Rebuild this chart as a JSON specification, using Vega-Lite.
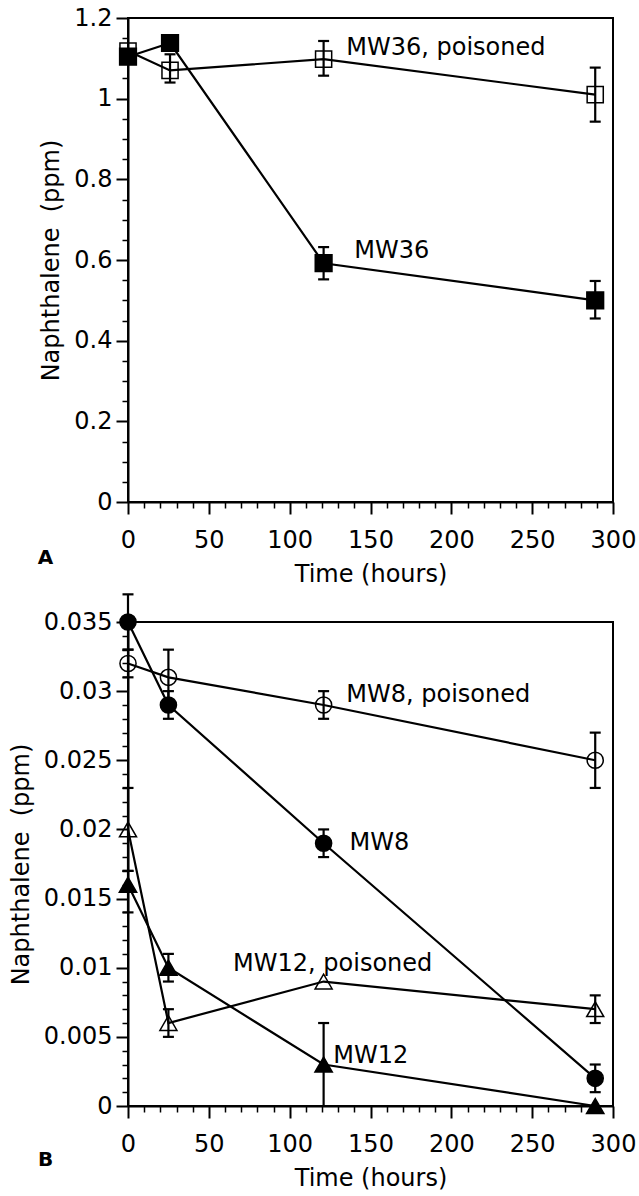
{
  "$schema": "https://vega.github.io/schema/vega-lite/v6.json",
  "padding": {"left": 8, "top": 5, "right": 0, "bottom": 0},
  "spacing": 5,
  "config": {
    "font": "DejaVu Sans",
    "view": {"stroke": "black", "strokeWidth": 2},
    "axis": {"domainColor": "black", "domainWidth": 2, "tickColor": "black", "tickWidth": 2, "labelColor": "black", "labelFontSize": 24, "titleFontSize": 24, "titleFontWeight": "normal", "titleColor": "black", "grid": false, "labelFont": "DejaVu Sans", "titleFont": "DejaVu Sans", "labelFlush": false},
    "text": {"font": "DejaVu Sans"}
  },
  "datasets": {
    "a": [
      {"series": "MW36, poisoned", "t": 0, "v": 1.118, "lo": null, "hi": null},
      {"series": "MW36, poisoned", "t": 26, "v": 1.07, "lo": 1.04, "hi": 1.11},
      {"series": "MW36, poisoned", "t": 121, "v": 1.098, "lo": 1.057, "hi": 1.143},
      {"series": "MW36, poisoned", "t": 289, "v": 1.01, "lo": 0.943, "hi": 1.077},
      {"series": "MW36", "t": 0, "v": 1.104, "lo": null, "hi": null},
      {"series": "MW36", "t": 26, "v": 1.138, "lo": null, "hi": null},
      {"series": "MW36", "t": 121, "v": 0.592, "lo": 0.552, "hi": 0.632},
      {"series": "MW36", "t": 289, "v": 0.5, "lo": 0.455, "hi": 0.548}
    ],
    "alab": [
      {"label": "MW36, poisoned", "t": 135, "v": 1.126},
      {"label": "MW36", "t": 140, "v": 0.622}
    ],
    "aletter": [{"label": "A", "t": -51, "v": -0.139}],
    "b": [
      {"series": "MW8", "t": 0, "v": 0.035, "lo": 0.033, "hi": 0.037},
      {"series": "MW8", "t": 25, "v": 0.029, "lo": 0.028, "hi": 0.03},
      {"series": "MW8", "t": 121, "v": 0.019, "lo": 0.018, "hi": 0.02},
      {"series": "MW8", "t": 289, "v": 0.002, "lo": 0.001, "hi": 0.003},
      {"series": "MW8, poisoned", "t": 0, "v": 0.032, "lo": 0.031, "hi": 0.033},
      {"series": "MW8, poisoned", "t": 25, "v": 0.031, "lo": 0.029, "hi": 0.033},
      {"series": "MW8, poisoned", "t": 121, "v": 0.029, "lo": 0.028, "hi": 0.03},
      {"series": "MW8, poisoned", "t": 289, "v": 0.025, "lo": 0.023, "hi": 0.027},
      {"series": "MW12, poisoned", "t": 0, "v": 0.02, "lo": 0.017, "hi": 0.023},
      {"series": "MW12, poisoned", "t": 25, "v": 0.006, "lo": 0.005, "hi": 0.007},
      {"series": "MW12, poisoned", "t": 121, "v": 0.009, "lo": null, "hi": null},
      {"series": "MW12, poisoned", "t": 289, "v": 0.007, "lo": 0.006, "hi": 0.008},
      {"series": "MW12", "t": 0, "v": 0.016, "lo": 0.014, "hi": 0.017},
      {"series": "MW12", "t": 25, "v": 0.01, "lo": 0.009, "hi": 0.011},
      {"series": "MW12", "t": 121, "v": 0.003, "lo": 0.0, "hi": 0.006},
      {"series": "MW12", "t": 289, "v": 0.0, "lo": null, "hi": null}
    ],
    "blab": [
      {"label": "MW8, poisoned", "t": 135, "v": 0.0297},
      {"label": "MW8", "t": 137, "v": 0.019},
      {"label": "MW12, poisoned", "t": 65, "v": 0.0103},
      {"label": "MW12", "t": 127, "v": 0.0036}
    ],
    "bletter": [{"label": "B", "t": -51, "v": -0.0039}]
  },
  "vconcat": [
    {
      "width": 485,
      "height": 484,
      "layer": [
        {
          "layer": [
            {
              "data": {"name": "a"},
              "mark": {"type": "line", "color": "black", "strokeWidth": 2.2},
              "encoding": {
                "x": {"field": "t", "type": "quantitative", "scale": {"domain": [0, 300], "nice": false}, "axis": null},
                "y": {"field": "v", "type": "quantitative", "scale": {"domain": [0, 1.2], "nice": false}, "axis": null},
                "detail": {"field": "series"}
              }
            },
            {
              "data": {"name": "a"},
              "transform": [{"filter": "datum.lo != null"}],
              "mark": {"type": "rule", "color": "black", "strokeWidth": 2.2},
              "encoding": {
                "x": {"field": "t", "type": "quantitative", "scale": {"domain": [0, 300], "nice": false}, "axis": null},
                "y": {"field": "lo", "type": "quantitative", "scale": {"domain": [0, 1.2], "nice": false}, "axis": null},
                "y2": {"field": "hi"}
              }
            },
            {
              "data": {"name": "a"},
              "transform": [{"filter": "datum.lo != null"}],
              "mark": {"type": "tick", "orient": "horizontal", "size": 11, "thickness": 2.2, "color": "black", "opacity": 1},
              "encoding": {
                "x": {"field": "t", "type": "quantitative", "scale": {"domain": [0, 300], "nice": false}, "axis": null},
                "y": {"field": "lo", "type": "quantitative", "scale": {"domain": [0, 1.2], "nice": false}, "axis": null}
              }
            },
            {
              "data": {"name": "a"},
              "transform": [{"filter": "datum.hi != null"}],
              "mark": {"type": "tick", "orient": "horizontal", "size": 11, "thickness": 2.2, "color": "black", "opacity": 1},
              "encoding": {
                "x": {"field": "t", "type": "quantitative", "scale": {"domain": [0, 300], "nice": false}, "axis": null},
                "y": {"field": "hi", "type": "quantitative", "scale": {"domain": [0, 1.2], "nice": false}, "axis": null}
              }
            },
            {
              "data": {"name": "a"},
              "mark": {"type": "point", "opacity": 1, "strokeWidth": 1.5, "stroke": "black"},
              "encoding": {
                "x": {"field": "t", "type": "quantitative", "scale": {"domain": [0, 300], "nice": false}, "axis": null},
                "y": {"field": "v", "type": "quantitative", "scale": {"domain": [0, 1.2], "nice": false}, "axis": null},
                "shape": {"field": "series", "type": "nominal", "legend": null, "scale": {"domain": ["MW36", "MW36, poisoned", "MW8", "MW8, poisoned", "MW12", "MW12, poisoned"], "range": ["square", "square", "circle", "circle", "triangle-up", "triangle-up"]}},
                "fill": {"field": "series", "type": "nominal", "legend": null, "scale": {"domain": ["MW36", "MW36, poisoned", "MW8", "MW8, poisoned", "MW12", "MW12, poisoned"], "range": ["black", "transparent", "black", "transparent", "black", "transparent"]}},
                "size": {"field": "series", "type": "nominal", "legend": null, "scale": {"type": "ordinal", "domain": ["MW36", "MW36, poisoned", "MW8", "MW8, poisoned", "MW12", "MW12, poisoned"], "range": [280, 260, 260, 260, 300, 290]}}
              }
            },
            {
              "data": {"name": "alab"},
              "mark": {"type": "text", "align": "left", "baseline": "middle", "fontSize": 24, "color": "black"},
              "encoding": {
                "x": {"field": "t", "type": "quantitative", "scale": {"domain": [0, 300], "nice": false}, "axis": null},
                "y": {"field": "v", "type": "quantitative", "scale": {"domain": [0, 1.2], "nice": false}, "axis": null},
                "text": {"field": "label"}
              }
            },
            {
              "data": {"name": "aletter"},
              "mark": {"type": "text", "align": "center", "baseline": "middle", "fontSize": 20, "fontWeight": "bold", "color": "black"},
              "encoding": {
                "x": {"field": "t", "type": "quantitative", "scale": {"domain": [0, 300], "nice": false}, "axis": null},
                "y": {"field": "v", "type": "quantitative", "scale": {"domain": [0, 1.2], "nice": false}, "axis": null},
                "text": {"field": "label"}
              }
            }
          ]
        },
        {
          "data": {"name": "a"},
          "mark": {"type": "point", "opacity": 0},
          "encoding": {
            "x": {"field": "t", "type": "quantitative", "scale": {"domain": [0, 300], "nice": false}, "axis": {"orient": "bottom", "values": [0, 50, 100, 150, 200, 250, 300], "tickSize": 12, "labelPadding": 14, "title": "Time (hours)", "titlePadding": 10}},
            "y": {"field": "v", "type": "quantitative", "scale": {"domain": [0, 1.2], "nice": false}, "axis": {"orient": "left", "values": [0, 0.2, 0.4, 0.6, 0.8, 1, 1.2], "format": "~g", "tickSize": 12, "labelPadding": 4, "title": "Naphthalene\u00a0 (ppm)", "titlePadding": 10}}
          }
        },
        {
          "data": {"name": "a"},
          "mark": {"type": "point", "opacity": 0},
          "encoding": {
            "x": {"field": "t", "type": "quantitative", "scale": {"domain": [0, 300], "nice": false}, "axis": {"orient": "bottom", "values": [10, 20, 30, 40, 60, 70, 80, 90, 110, 120, 130, 140, 160, 170, 180, 190, 210, 220, 230, 240, 260, 270, 280, 290], "tickSize": 6, "tickWidth": 1.5, "labels": false, "domain": false, "title": null}},
            "y": {"field": "v", "type": "quantitative", "scale": {"domain": [0, 1.2], "nice": false}, "axis": {"orient": "left", "values": [0.05, 0.1, 0.15, 0.25, 0.3, 0.35, 0.45, 0.5, 0.55, 0.65, 0.7, 0.75, 0.85, 0.9, 0.95, 1.05, 1.1, 1.15], "tickSize": 6, "tickWidth": 1.5, "labels": false, "domain": false, "title": null}}
          }
        }
      ],
      "resolve": {"axis": {"x": "independent", "y": "independent"}}
    },
    {
      "width": 485,
      "height": 484,
      "layer": [
        {
          "layer": [
            {
              "data": {"name": "b"},
              "mark": {"type": "line", "color": "black", "strokeWidth": 2.2},
              "encoding": {
                "x": {"field": "t", "type": "quantitative", "scale": {"domain": [0, 300], "nice": false}, "axis": null},
                "y": {"field": "v", "type": "quantitative", "scale": {"domain": [0, 0.035], "nice": false}, "axis": null},
                "detail": {"field": "series"}
              }
            },
            {
              "data": {"name": "b"},
              "transform": [{"filter": "datum.lo != null"}],
              "mark": {"type": "rule", "color": "black", "strokeWidth": 2.2},
              "encoding": {
                "x": {"field": "t", "type": "quantitative", "scale": {"domain": [0, 300], "nice": false}, "axis": null},
                "y": {"field": "lo", "type": "quantitative", "scale": {"domain": [0, 0.035], "nice": false}, "axis": null},
                "y2": {"field": "hi"}
              }
            },
            {
              "data": {"name": "b"},
              "transform": [{"filter": "datum.lo != null && datum.lo > 0"}],
              "mark": {"type": "tick", "orient": "horizontal", "size": 11, "thickness": 2.2, "color": "black", "opacity": 1},
              "encoding": {
                "x": {"field": "t", "type": "quantitative", "scale": {"domain": [0, 300], "nice": false}, "axis": null},
                "y": {"field": "lo", "type": "quantitative", "scale": {"domain": [0, 0.035], "nice": false}, "axis": null}
              }
            },
            {
              "data": {"name": "b"},
              "transform": [{"filter": "datum.hi != null"}],
              "mark": {"type": "tick", "orient": "horizontal", "size": 11, "thickness": 2.2, "color": "black", "opacity": 1},
              "encoding": {
                "x": {"field": "t", "type": "quantitative", "scale": {"domain": [0, 300], "nice": false}, "axis": null},
                "y": {"field": "hi", "type": "quantitative", "scale": {"domain": [0, 0.035], "nice": false}, "axis": null}
              }
            },
            {
              "data": {"name": "b"},
              "mark": {"type": "point", "opacity": 1, "strokeWidth": 1.5, "stroke": "black"},
              "encoding": {
                "x": {"field": "t", "type": "quantitative", "scale": {"domain": [0, 300], "nice": false}, "axis": null},
                "y": {"field": "v", "type": "quantitative", "scale": {"domain": [0, 0.035], "nice": false}, "axis": null},
                "shape": {"field": "series", "type": "nominal", "legend": null, "scale": {"domain": ["MW36", "MW36, poisoned", "MW8", "MW8, poisoned", "MW12", "MW12, poisoned"], "range": ["square", "square", "circle", "circle", "triangle-up", "triangle-up"]}},
                "fill": {"field": "series", "type": "nominal", "legend": null, "scale": {"domain": ["MW36", "MW36, poisoned", "MW8", "MW8, poisoned", "MW12", "MW12, poisoned"], "range": ["black", "transparent", "black", "transparent", "black", "transparent"]}},
                "size": {"field": "series", "type": "nominal", "legend": null, "scale": {"type": "ordinal", "domain": ["MW36", "MW36, poisoned", "MW8", "MW8, poisoned", "MW12", "MW12, poisoned"], "range": [280, 260, 260, 260, 300, 290]}}
              }
            },
            {
              "data": {"name": "blab"},
              "mark": {"type": "text", "align": "left", "baseline": "middle", "fontSize": 24, "color": "black"},
              "encoding": {
                "x": {"field": "t", "type": "quantitative", "scale": {"domain": [0, 300], "nice": false}, "axis": null},
                "y": {"field": "v", "type": "quantitative", "scale": {"domain": [0, 0.035], "nice": false}, "axis": null},
                "text": {"field": "label"}
              }
            },
            {
              "data": {"name": "bletter"},
              "mark": {"type": "text", "align": "center", "baseline": "middle", "fontSize": 20, "fontWeight": "bold", "color": "black"},
              "encoding": {
                "x": {"field": "t", "type": "quantitative", "scale": {"domain": [0, 300], "nice": false}, "axis": null},
                "y": {"field": "v", "type": "quantitative", "scale": {"domain": [0, 0.035], "nice": false}, "axis": null},
                "text": {"field": "label"}
              }
            }
          ]
        },
        {
          "data": {"name": "b"},
          "mark": {"type": "point", "opacity": 0},
          "encoding": {
            "x": {"field": "t", "type": "quantitative", "scale": {"domain": [0, 300], "nice": false}, "axis": {"orient": "bottom", "values": [0, 50, 100, 150, 200, 250, 300], "tickSize": 12, "labelPadding": 14, "title": "Time (hours)", "titlePadding": 10}},
            "y": {"field": "v", "type": "quantitative", "scale": {"domain": [0, 0.035], "nice": false}, "axis": {"orient": "left", "values": [0, 0.005, 0.01, 0.015, 0.02, 0.025, 0.03, 0.035], "format": "~g", "tickSize": 12, "labelPadding": 4, "title": "Naphthalene\u00a0 (ppm)", "titlePadding": 10}}
          }
        },
        {
          "data": {"name": "b"},
          "mark": {"type": "point", "opacity": 0},
          "encoding": {
            "x": {"field": "t", "type": "quantitative", "scale": {"domain": [0, 300], "nice": false}, "axis": {"orient": "bottom", "values": [10, 20, 30, 40, 60, 70, 80, 90, 110, 120, 130, 140, 160, 170, 180, 190, 210, 220, 230, 240, 260, 270, 280, 290], "tickSize": 6, "tickWidth": 1.5, "labels": false, "domain": false, "title": null}},
            "y": {"field": "v", "type": "quantitative", "scale": {"domain": [0, 0.035], "nice": false}, "axis": {"orient": "left", "values": [0.001, 0.002, 0.003, 0.004, 0.006, 0.007, 0.008, 0.009, 0.011, 0.012, 0.013, 0.014, 0.016, 0.017, 0.018, 0.019, 0.021, 0.022, 0.023, 0.024, 0.026, 0.027, 0.028, 0.029, 0.031, 0.032, 0.033, 0.034], "tickSize": 6, "tickWidth": 1.5, "labels": false, "domain": false, "title": null}}
          }
        }
      ],
      "resolve": {"axis": {"x": "independent", "y": "independent"}}
    }
  ]
}
